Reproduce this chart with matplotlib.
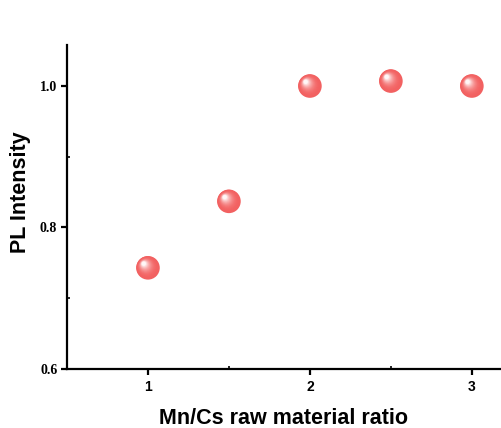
import numpy as np
import matplotlib
matplotlib.use('Agg')
import matplotlib.pyplot as plt
import matplotlib.transforms as mtransforms
from matplotlib.ticker import MultipleLocator

ratio = [1.0, 1.5, 2.0, 2.5, 3.0]
intensity = [0.743, 0.837, 1.000, 1.007, 1.000]
xticks = [1, 2, 3]
yticks = [0.6, 0.8, 1.0]

fig = plt.figure(figsize=(5.01, 4.28), dpi=100)
ax = fig.add_axes([0.1337, 0.1379, 0.8663, 0.757])

# shaded balls: stack of shrinking circles going from red to white,
# shifted a little towards the upper left each step
base = np.array([0.95, 0.38, 0.38])
light = np.array([1.0, 0.97, 0.97])
n = 18
size0 = 17.0
for k in range(n):
    f = k / (n - 1)
    col = base + (light - base) * f ** 2.5
    d = size0 * (1 - 0.82 * f)
    off = mtransforms.offset_copy(ax.transData, fig=fig, x=-3.0 * f, y=3.0 * f, units='points')
    ax.scatter(ratio, intensity, s=d ** 2, color=col, edgecolors='none',
               transform=off, zorder=3 + k, clip_on=False)

ax.set_xlim(0.5, 3.18)
ax.set_ylim(0.6, 1.058)
ax.set_xticks(xticks)
ax.set_xticklabels([str(t) for t in xticks])
ax.set_yticks(yticks)
ax.set_yticklabels(['%.1f' % t for t in yticks])
ax.xaxis.set_minor_locator(MultipleLocator(0.5))
ax.yaxis.set_minor_locator(MultipleLocator(0.1))

for s in ['top', 'right']:
    ax.spines[s].set_visible(False)
for s in ['left', 'bottom']:
    ax.spines[s].set_linewidth(1.6)

ax.tick_params(which='major', direction='out', length=4, width=1.6)
ax.tick_params(which='minor', direction='in', length=2.5, width=1.2)
ax.tick_params(axis='x', which='major', labelsize=10, pad=4)
ax.tick_params(axis='y', which='major', labelsize=10, pad=3)

for lab in ax.get_xticklabels():
    lab.set_fontfamily('Liberation Sans')
    lab.set_fontweight('bold')
for lab in ax.get_yticklabels():
    lab.set_fontfamily('Liberation Serif')
    lab.set_fontweight('bold')

ax.set_xlabel('Mn/Cs raw material ratio', fontsize=15.5, fontweight='bold',
              family='Liberation Sans', labelpad=10)
ax.set_ylabel('PL Intensity', fontsize=15.5, fontweight='bold',
              family='Liberation Sans')
ax.yaxis.set_label_coords(-0.082, 0.546)

fig.savefig('out.png', dpi=100)
